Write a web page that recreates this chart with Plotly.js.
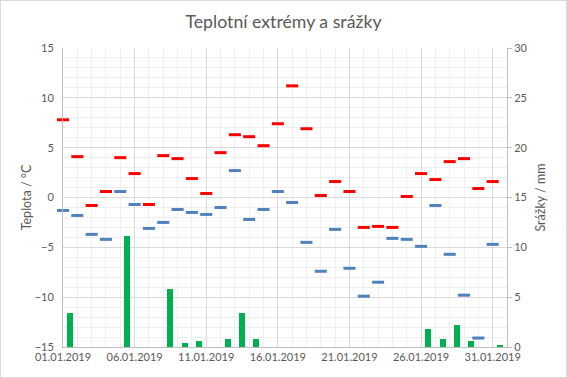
<!DOCTYPE html>
<html>
<head>
<meta charset="utf-8">
<script src="https://cdn.plot.ly/plotly-3.0.1.min.js"></script>
<style>
html,body{margin:0;padding:0;background:#fff;}
#wrap{position:relative;width:567px;height:378px;}
#chart{width:567px;height:378px;}
#frame{position:absolute;left:0;top:0;width:565px;height:376px;border:1px solid #d9d9d9;pointer-events:none;}
</style>
</head>
<body>
<div id="wrap"><div id="chart"></div><div id="frame"></div></div>
<script>
const dates = ["2019-01-01","2019-01-02","2019-01-03","2019-01-04","2019-01-05","2019-01-06","2019-01-07","2019-01-08","2019-01-09","2019-01-10",
"2019-01-11","2019-01-12","2019-01-13","2019-01-14","2019-01-15","2019-01-16","2019-01-17","2019-01-18","2019-01-19","2019-01-20",
"2019-01-21","2019-01-22","2019-01-23","2019-01-24","2019-01-25","2019-01-26","2019-01-27","2019-01-28","2019-01-29","2019-01-30","2019-01-31"];
const tMax = [7.8,4.1,-0.8,0.6,4.0,2.4,-0.7,4.2,3.9,1.9,0.4,4.5,6.3,6.1,5.2,7.4,11.2,6.9,0.2,1.6,0.6,-3.0,-2.9,-3.0,0.1,2.4,1.8,3.6,3.9,0.9,1.6];
const tMin = [-1.3,-1.8,-3.7,-4.2,0.6,-0.7,-3.1,-2.5,-1.2,-1.5,-1.7,-1.0,2.7,-2.2,-1.2,0.6,-0.5,-4.5,-7.4,-3.2,-7.1,-9.9,-8.5,-4.1,-4.2,-4.9,-0.8,-5.7,-9.8,-14.1,-4.7];
const precip = [3.4,0,0,0,11.1,0,0,5.8,0.4,0.6,0,0.8,3.4,0.8,0,0,0,0,0,0,0,0,0,0,0,1.8,0.8,2.2,0.6,0,0.2];

const DAY = 86400000;
const txt = '#595959';
const fam = 'Lato, "Open Sans", sans-serif';
const font = {family:fam, size:11, color:txt};
const tfont = {family:fam, size:12.5, color:txt};

const traces = [
  {type:'bar', x:dates, y:precip, yaxis:'y2', xperiod:DAY, xperiodalignment:'middle',
   width:0.42*DAY, marker:{color:'#00b050'}, name:'Srážky'},
  {type:'scatter', mode:'markers', x:dates, y:tMax, name:'Max', cliponaxis:false,
   marker:{symbol:'line-ew', size:8.6, line:{width:3, color:'#ff0000'}, color:'#ff0000'}},
  {type:'scatter', mode:'markers', x:dates, y:tMin, name:'Min', cliponaxis:false,
   marker:{symbol:'line-ew', size:8.6, line:{width:3, color:'#4f81bd'}, color:'#4f81bd'}}
];

const layout = {
  width:567, height:378,
  margin:{l:63, r:60, t:48, b:31},
  paper_bgcolor:'#fff', plot_bgcolor:'#fff',
  showlegend:false,
  font:font,
  title:{text:'Teplotní extrémy a srážky', x:0.5, xanchor:'center', y:0.943, yanchor:'middle',
         font:{family:fam, size:17.7, color:txt}},
  xaxis:{type:'date', range:['2019-01-01','2019-02-01'], tick0:'2019-01-01', dtick:5*DAY,
         tickformat:'%d.%m.%Y', showgrid:true, gridcolor:'#d9d9d9', gridwidth:1,
         minor:{dtick:DAY, tick0:'2019-01-01', showgrid:true, gridcolor:'#efefef', gridwidth:1},
         showline:true, linecolor:'#bfbfbf', linewidth:1, ticks:'', zeroline:false,
         tickfont:font, automargin:false},
  yaxis:{range:[-15,15], dtick:5, tick0:-15, showgrid:true, gridcolor:'#d9d9d9',
         minor:{dtick:1, showgrid:true, gridcolor:'#efefef'},
         zeroline:false, showline:true, linecolor:'#bfbfbf', ticks:'', ticklabelstandoff:6,
         tickfont:font, title:{text:'Teplota / °C', font:tfont, standoff:0}, automargin:false},
  yaxis2:{range:[0,30], dtick:5, overlaying:'y', side:'right', showgrid:false, zeroline:false,
          showline:true, linecolor:'#bfbfbf', ticks:'outside', ticklen:4, tickcolor:'#bfbfbf',
          tickfont:font, title:{text:'Srážky / mm', font:tfont, standoff:9}, automargin:false},
  bargap:0
};

Plotly.newPlot('chart', traces, layout, {displayModeBar:false, staticPlot:true});
</script>
</body>
</html>
